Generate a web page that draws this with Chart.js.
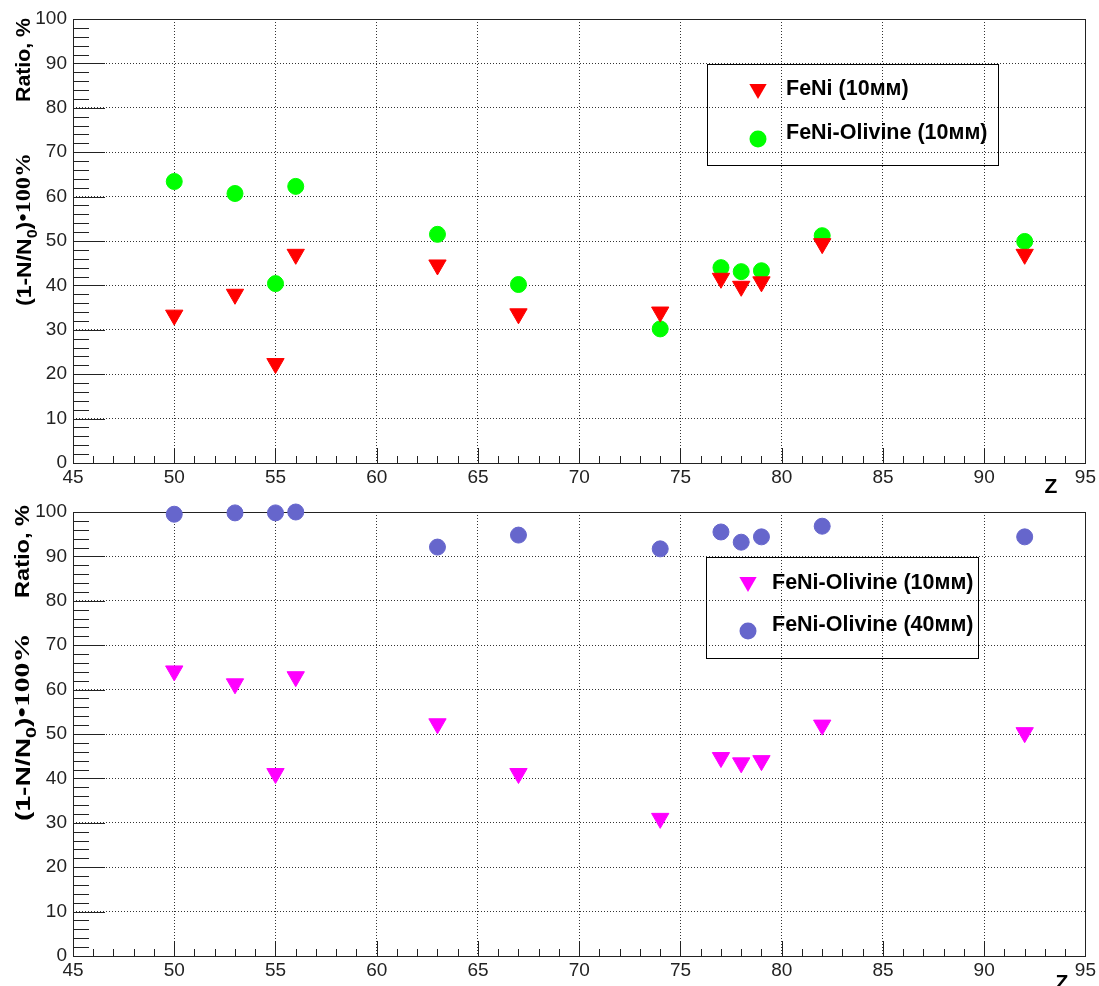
<!DOCTYPE html>
<html>
<head>
<meta charset="utf-8">
<script src="https://cdn.jsdelivr.net/npm/chart.js@4/dist/chart.umd.min.js"></script>
<style>
  body { margin: 0; background: #fff; }
  .box { position: absolute; left: 0; width: 1099px; height: 493px; }
</style>
</head>
<body>
<div class="box" style="top:0"><canvas id="topChart" width="1099" height="493"></canvas></div>
<div class="box" style="top:493px"><canvas id="bottomChart" width="1099" height="493"></canvas></div>
<script>
// data
const zValues = [50, 53, 55, 56, 63, 67, 74, 77, 78, 79, 82, 92];
const feni10 = [33.3, 38.0, 22.4, 47.0, 44.6, 33.6, 34.0, 41.6, 39.8, 40.8, 49.4, 47.0];
const feniOlivine10Top = [63.4, 60.7, 40.4, 62.3, 51.5, 40.2, 30.2, 44.0, 43.1, 43.3, 51.2, 49.9];
const feniOlivine10Bottom = [64.2, 61.3, 41.1, 62.9, 52.3, 41.1, 31.0, 44.7, 43.5, 44.0, 52.0, 50.3];
const feniOlivine40 = [99.5, 99.8, 99.8, 100, 92.1, 94.8, 91.7, 95.5, 93.2, 94.4, 96.8, 94.4];
const xTicks = [45, 50, 55, 60, 65, 70, 75, 80, 85, 90, 95];
const yTicks = [0, 10, 20, 30, 40, 50, 60, 70, 80, 90, 100];

const toPoints = (xs, ys) => xs.map((x, i) => ({x: x, y: ys[i]}));

// frame and ROOT-like inner ticks
const rootFrame = {
  id: 'rootFrame',
  beforeDatasetsDraw(chart) {
    const ctx = chart.ctx, a = chart.chartArea;
    const x = chart.scales.x, y = chart.scales.y;
    ctx.save();
    ctx.strokeStyle = '#222';
    ctx.lineWidth = 1;
    ctx.beginPath();
    for (let v = y.min; v <= y.max; v += 2) {
      const py = Math.round(y.getPixelForValue(v)) + 0.5;
      const len = v % 10 === 0 ? 32 : 16;
      ctx.moveTo(a.left, py);
      ctx.lineTo(a.left + len, py);
    }
    for (let v = x.min; v <= x.max; v += 1) {
      const px = Math.round(x.getPixelForValue(v)) + 0.5;
      const len = v % 5 === 0 ? 15 : 7;
      ctx.moveTo(px, a.bottom);
      ctx.lineTo(px, a.bottom - len);
    }
    ctx.stroke();
    ctx.strokeRect(Math.round(a.left) + 0.5, Math.round(a.top) + 0.5,
      Math.round(a.right - a.left), Math.round(a.bottom - a.top));
    ctx.restore();
  }
};

function drawMarker(ctx, style, x, y, r, color) {
  ctx.fillStyle = color;
  ctx.beginPath();
  if (style === 'triangle') {
    ctx.moveTo(x, y + r);
    ctx.lineTo(x - r * Math.sin(Math.PI / 3), y - r / 2);
    ctx.lineTo(x + r * Math.sin(Math.PI / 3), y - r / 2);
    ctx.closePath();
  } else {
    ctx.arc(x, y, r, 0, Math.PI * 2);
  }
  ctx.fill();
}

// text along the y axis, stretched lengthwise to a given length
function drawRotated(ctx, cx, yBottom, length, size, parts) {
  ctx.save();
  ctx.textBaseline = 'middle';
  ctx.textAlign = 'left';
  ctx.fillStyle = '#000';
  let total = 0;
  parts.forEach(p => {
    ctx.font = p.weight + ' ' + (size * p.scale) + 'px ' + p.family;
    total += ctx.measureText(p.text).width;
  });
  ctx.translate(cx, yBottom);
  ctx.rotate(-Math.PI / 2);
  ctx.scale(length / total, 1);
  let pos = 0;
  parts.forEach(p => {
    ctx.font = p.weight + ' ' + (size * p.scale) + 'px ' + p.family;
    ctx.fillText(p.text, pos, (p.dy || 0) * size);
    pos += ctx.measureText(p.text).width;
  });
  ctx.restore();
}

const sans = '"Liberation Sans", Arial, sans-serif';
const serif = '"Liberation Serif", "Times New Roman", serif';

const decorations = {
  id: 'decorations',
  afterDatasetsDraw(chart, args, opts) {
    const ctx = chart.ctx;
    const lg = opts.legend;
    ctx.save();
    // legend
    ctx.strokeStyle = '#000';
    ctx.lineWidth = 1;
    ctx.strokeRect(lg.box[0] + 0.5, lg.box[1] + 0.5, lg.box[2] - lg.box[0], lg.box[3] - lg.box[1]);
    ctx.font = 'bold 21.5px ' + sans;
    ctx.textBaseline = 'middle';
    ctx.textAlign = 'left';
    lg.rows.forEach((row, i) => {
      const ds = chart.data.datasets[i];
      drawMarker(ctx, ds.pointStyle, lg.markerX, row[0], ds.pointStyle === 'triangle' ? 10 : 8.5, ds.backgroundColor);
      ctx.fillStyle = '#000';
      ctx.fillText(ds.label, lg.textX, row[1]);
    });
    // x title
    ctx.font = 'bold 21px ' + sans;
    ctx.textAlign = 'center';
    ctx.fillStyle = '#000';
    ctx.fillText('Z', opts.zPos[0], opts.zPos[1]);
    ctx.restore();
    // y title
    const t = opts.yTitle;
    drawRotated(ctx, t.x, t.ratio[1], t.ratio[1] - t.ratio[0], 20, [
      {text: 'Ratio, %', weight: 'bold', scale: 1, family: sans}
    ]);
    drawRotated(ctx, t.x + 1, t.formula[1], t.formula[1] - t.formula[0], 20, [
      {text: '(1-N/N', weight: 'bold', scale: 1, family: sans},
      {text: '0', weight: 'bold', scale: 0.7, family: sans, dy: 0.4},
      {text: ')', weight: 'bold', scale: 1, family: sans},
      {text: '\u2022100%', weight: 'bold', scale: 1.05, family: serif}
    ]);
  }
};

function makeChart(id, datasets, deco) {
  return new Chart(document.getElementById(id), {
    type: 'scatter',
    data: {datasets: datasets},
    options: {
      responsive: false,
      animation: false,
      events: [],
      layout: {padding: {top: 19, right: 12, left: 0, bottom: 0}},
      scales: {
        x: {
          type: 'linear', min: 45, max: 95,
          afterBuildTicks: s => { s.ticks = xTicks.map(v => ({value: v})); },
          afterFit: s => { s.height = 30; },
          grid: {color: '#333', lineWidth: 1, drawTicks: false},
          border: {display: false, dash: [1, 2]},
          ticks: {padding: 3, color: '#222', font: {family: 'Liberation Sans', size: 19}, maxRotation: 0}
        },
        y: {
          type: 'linear', min: 0, max: 100,
          afterBuildTicks: s => { s.ticks = yTicks.map(v => ({value: v})); },
          afterFit: s => { s.width = 73; },
          grid: {color: '#333', lineWidth: 1, drawTicks: false},
          border: {display: false, dash: [1, 2]},
          ticks: {padding: 6, color: '#222', font: {family: 'Liberation Sans', size: 19}}
        }
      },
      plugins: {
        legend: {display: false},
        tooltip: {enabled: false},
        decorations: deco
      }
    },
    plugins: [rootFrame, decorations]
  });
}

function triangles(label, ys, color) {
  return {
    label: label, data: toPoints(zValues, ys), clip: false,
    pointStyle: 'triangle', pointRotation: 180, pointRadius: 10,
    backgroundColor: color, borderColor: color, pointBorderWidth: 1
  };
}
function circles(label, ys, color) {
  return {
    label: label, data: toPoints(zValues, ys), clip: false,
    pointStyle: 'circle', pointRadius: 8,
    backgroundColor: color, borderColor: color, pointBorderWidth: 1
  };
}

makeChart('topChart', [
  triangles('FeNi (10мм)', feni10, '#ff0000'),
  circles('FeNi-Olivine (10мм)', feniOlivine10Top, '#00ff00')
], {
  legend: {box: [707, 64, 998, 165], markerX: 758, textX: 786, rows: [[89, 89], [139, 133]]},
  zPos: [1051, 487],
  yTitle: {x: 24, ratio: [18, 102], formula: [153, 306]}
});

makeChart('bottomChart', [
  triangles('FeNi-Olivine (10мм)', feniOlivine10Bottom, '#ff00ff'),
  circles('FeNi-Olivine (40мм)', feniOlivine40, '#6666cc')
], {
  legend: {box: [706, 64, 978, 165], markerX: 748, textX: 772, rows: [[89, 90], [138, 132]]},
  zPos: [1062, 490],
  yTitle: {x: 23, ratio: [12, 105], formula: [140, 328]}
});
</script>
</body>
</html>
